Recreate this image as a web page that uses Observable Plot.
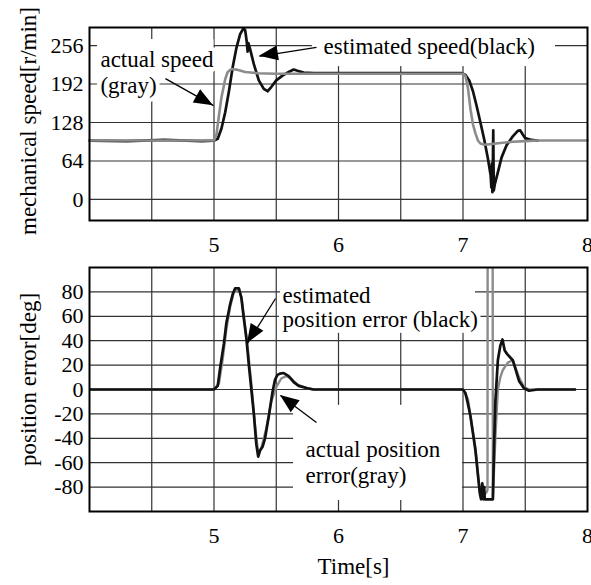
<!DOCTYPE html>
<html>
<head>
<meta charset="utf-8">
<script src="https://cdn.jsdelivr.net/npm/d3@7"></script>
<script src="https://cdn.jsdelivr.net/npm/@observablehq/plot@0.6"></script>
<style>
  body { margin: 0; background: #fff; }
  #wrap { position: relative; width: 591px; height: 585px; overflow: hidden; background: #fff; }
  #top { position: absolute; left: 0; top: 0; }
  #bot { position: absolute; left: 0; top: 262px; }
</style>
</head>
<body>
<div id="wrap"><div id="top"></div><div id="bot"></div></div>
<script>
// ---------- data ----------
const xTicks = [5, 6, 7, 8];
const xGrid = [4.5, 5, 5.5, 6, 6.5, 7, 7.5];
const speedTicks = [0, 64, 128, 192, 256];
const errTicks = [-80, -60, -40, -20, 0, 20, 40, 60, 80];

// estimated speed (black)
const estSpeedT = [4.0, 4.3, 4.6, 4.9, 5.0, 5.03, 5.06, 5.09, 5.12, 5.15, 5.18, 5.21, 5.235, 5.25, 5.262, 5.27, 5.276, 5.29, 5.32, 5.36, 5.4, 5.43, 5.46, 5.5, 5.55, 5.6, 5.64, 5.67, 5.72, 5.8, 6.5, 6.99, 7.02, 7.05, 7.08, 7.11, 7.14, 7.17, 7.2, 7.222, 7.228, 7.232, 7.236, 7.24, 7.243, 7.247, 7.255, 7.28, 7.31, 7.35, 7.4, 7.44, 7.46, 7.48, 7.5, 7.55, 7.6];
const estSpeedV = [98, 97, 99, 97, 98, 101, 118, 145, 180, 220, 252, 275, 284, 282, 264, 246, 260, 250, 225, 198, 184, 180, 187, 198, 206, 212, 216, 214, 211, 210, 210, 210, 207, 198, 180, 155, 128, 100, 68, 40, 20, 60, 12, 60, 115, 15, 25, 45, 70, 90, 105, 114, 115, 108, 102, 99, 98];
// actual speed (gray)
const actSpeedT = [4.0, 5.0, 5.02, 5.04, 5.06, 5.09, 5.11, 5.14, 5.18, 5.25, 5.35, 5.5, 6.0, 7.0, 7.02, 7.04, 7.06, 7.08, 7.1, 7.12, 7.14, 7.17, 7.22, 7.3, 7.4, 7.5, 7.6, 8.0];
const actSpeedV = [98, 98, 108, 140, 170, 200, 212, 217, 216, 212, 210, 209, 209, 209, 205, 185, 150, 125, 110, 98, 93, 91, 92, 94, 96, 97, 98, 98];

// estimated position error (black)
const estErrT = [4.0, 5.0, 5.03, 5.05, 5.08, 5.1, 5.12, 5.13, 5.15, 5.17, 5.2, 5.22, 5.24, 5.26, 5.28, 5.3, 5.32, 5.34, 5.355, 5.37, 5.39, 5.41, 5.44, 5.47, 5.49, 5.51, 5.53, 5.56, 5.6, 5.64, 5.68, 5.75, 5.8, 7.0, 7.02, 7.04, 7.06, 7.08, 7.1, 7.12, 7.135, 7.145, 7.155, 7.165, 7.17, 7.175, 7.24, 7.25, 7.26, 7.28, 7.3, 7.317, 7.335, 7.355, 7.4, 7.45, 7.49, 7.53, 7.6, 7.9];
const estErrV = [0, 0, 3, 18, 38, 55, 65, 70, 78, 83, 83, 75, 58, 42, 20, 0, -20, -45, -55, -50, -47, -40, -22, -2, 8, 12, 13, 13.5, 11, 6, 3, 1, 0, 0, -3, -12, -22, -36, -50, -70, -85, -90, -77, -90, -80, -90, -90, -45, -10, 24, 36, 41, 32, 29, 24, 7, 1, -1, 0, 0];
// actual position error (gray)
const actErrT = [4.0, 5.0, 5.04, 5.07, 5.1, 5.13, 5.16, 5.2, 5.22, 5.24, 5.27, 5.3, 5.33, 5.355, 5.38, 5.42, 5.46, 5.5, 5.54, 5.58, 5.62, 5.67, 5.75, 5.8, 7.0, 7.04, 7.07, 7.1, 7.125, 7.14, 7.16, 7.19, 7.197, 7.198, 7.238, 7.24, 7.26, 7.28, 7.3, 7.32, 7.36, 7.4, 7.45, 7.49, 7.53, 7.9];
const actErrV = [0, 0, 5, 25, 50, 68, 80, 82, 76, 60, 35, 5, -30, -52, -48, -32, -10, 2, 9, 11, 9, 4, 1, 0, 0, -8, -28, -48, -75, -86, -88, -84, -82, 150, 150, -88, -40, 0, 10, 16, 22, 24, 10, 2, 0, 0];

// annotations
const topNotes = [
  {t: 4.088, v: 233, text: "actual speed"},
  {t: 4.088, v: 190, text: "(gray)"},
  {t: 5.88, v: 255, text: "estimated speed(black)"}
];
const botNotes = [
  {t: 5.55, v: 77, text: "estimated"},
  {t: 5.55, v: 57.5, text: "position error (black)"},
  {t: 5.735, v: -49, text: "actual position"},
  {t: 5.735, v: -71, text: "error(gray)"}
];
// white label boxes that hide the grid behind the annotations
const topBoxes = [
  {x1: 4.064, x2: 5.0, y1: 211, y2: 266},
  {x1: 4.064, x2: 4.554, y1: 168, y2: 211},
  {x1: 5.79, x2: 7.743, y1: 221, y2: 286}
];
const botBoxes = [
  {x1: 5.534, x2: 7.1, y1: 46, y2: 100},
  {x1: 5.639, x2: 6.996, y1: -91, y2: -13}
];
const topArrows = [
  {x1: 4.61, y1: 201, x2: 4.996, y2: 156},
  {x1: 5.823, y1: 253, x2: 5.365, y2: 238}
];
const botArrows = [
  {x1: 5.494, y1: 74.6, x2: 5.269, y2: 37.7},
  {x1: 5.823, y1: -27, x2: 5.534, y2: -4.9}
];

// ---------- helpers ----------
const FONT = "Liberation Serif";
const zip = (T, V) => T.map((t, i) => ({t, v: V[i]}));
const heads = (arrows) => (index, scales) => {
  const g = d3.create("svg:g");
  for (const a of arrows) {
    const x1 = scales.x(a.x1), y1 = scales.y(a.y1), x2 = scales.x(a.x2), y2 = scales.y(a.y2);
    const dx = x2 - x1, dy = y2 - y1, L = Math.hypot(dx, dy), ux = dx / L, uy = dy / L;
    const hl = 19, hw = 7.5;
    const bx = x2 - ux * hl, by = y2 - uy * hl;
    const pts = [[x2, y2], [bx - uy * hw, by + ux * hw], [bx + uy * hw, by - ux * hw]];
    g.append("path").attr("d", "M" + pts.map(p => p.join(",")).join("L") + "Z").attr("fill", "black");
  }
  return g.node();
};
const gridStyle = {stroke: "#333", strokeWidth: 1.2};
const boxStyle = {x1: "x1", x2: "x2", y1: "y1", y2: "y2", fill: "white"};
const noteStyle = {x: "t", y: "v", text: "text", textAnchor: "start", lineAnchor: "middle", fontFamily: FONT,
  fontSize: 23, fill: "black", stroke: "white", strokeWidth: 8, paintOrder: "stroke", strokeLinejoin: "round"};
const fmt = d => String(d);
const svgStyle = "font-family: Liberation Serif; font-size: 22px; color: black; background: transparent;";

// ---------- top chart ----------
const topChart = Plot.plot({
  width: 591, height: 262,
  marginLeft: 89, marginRight: 4, marginTop: 27, marginBottom: 42,
  style: svgStyle,
  x: {domain: [4, 8], ticks: xTicks, tickFormat: fmt, tickSize: 0, tickPadding: 16, label: null},
  y: {domain: [-35, 286], ticks: speedTicks, tickFormat: fmt, tickSize: 0, tickPadding: 6, label: null},
  marks: [
    Plot.ruleY(speedTicks, gridStyle),
    Plot.ruleX(xGrid, gridStyle),
    Plot.rect(topBoxes, boxStyle),
    Plot.line(zip(estSpeedT, estSpeedV), {x: "t", y: "v", stroke: "#111", strokeWidth: 2.7}),
    Plot.line(zip(actSpeedT, actSpeedV), {x: "t", y: "v", stroke: "#8c8c8c", strokeWidth: 2.6}),
    Plot.text(topNotes, noteStyle),
    Plot.link(topArrows, {x1: "x1", y1: "y1", x2: "x2", y2: "y2", stroke: "black", strokeWidth: 1.3}),
    heads(topArrows),
    Plot.text(["mechanical speed[r/min]"], {frameAnchor: "left", textAnchor: "middle", rotate: -90, dx: -61, dy: -3, fontSize: 23, fontFamily: FONT, lineAnchor: "middle", fill: "black"}),
    Plot.frame({stroke: "black", strokeWidth: 2})
  ]
});
topChart.setAttribute("font-family", FONT);
document.getElementById("top").appendChild(topChart);

// ---------- bottom chart ----------
const botChart = Plot.plot({
  width: 591, height: 323,
  marginLeft: 89, marginRight: 4, marginTop: 5, marginBottom: 74,
  style: svgStyle,
  x: {domain: [4, 8], ticks: xTicks, tickFormat: fmt, tickSize: 0, tickPadding: 16, label: null},
  y: {domain: [-100, 100], ticks: errTicks, tickFormat: fmt, tickSize: 0, tickPadding: 6, label: null},
  marks: [
    Plot.ruleY(errTicks, gridStyle),
    Plot.ruleX(xGrid, gridStyle),
    Plot.rect(botBoxes, boxStyle),
    Plot.line(zip(actErrT, actErrV), {x: "t", y: "v", stroke: "#8c8c8c", strokeWidth: 2.4, clip: true}),
    Plot.line(zip(estErrT, estErrV), {x: "t", y: "v", stroke: "#111", strokeWidth: 2.7, clip: true}),
    Plot.text(botNotes, noteStyle),
    Plot.link(botArrows, {x1: "x1", y1: "y1", x2: "x2", y2: "y2", stroke: "black", strokeWidth: 1.3}),
    heads(botArrows),
    Plot.text(["position error[deg]"], {frameAnchor: "left", textAnchor: "middle", rotate: -90, dx: -61, dy: -10, fontSize: 23, fontFamily: FONT, lineAnchor: "middle", fill: "black"}),
    Plot.text(["Time[s]"], {frameAnchor: "bottom", dx: 15, dy: 55, fontSize: 23, fontFamily: FONT, lineAnchor: "middle", fill: "black"}),
    Plot.frame({stroke: "black", strokeWidth: 2})
  ]
});
botChart.setAttribute("font-family", FONT);
document.getElementById("bot").appendChild(botChart);
</script>
</body>
</html>
